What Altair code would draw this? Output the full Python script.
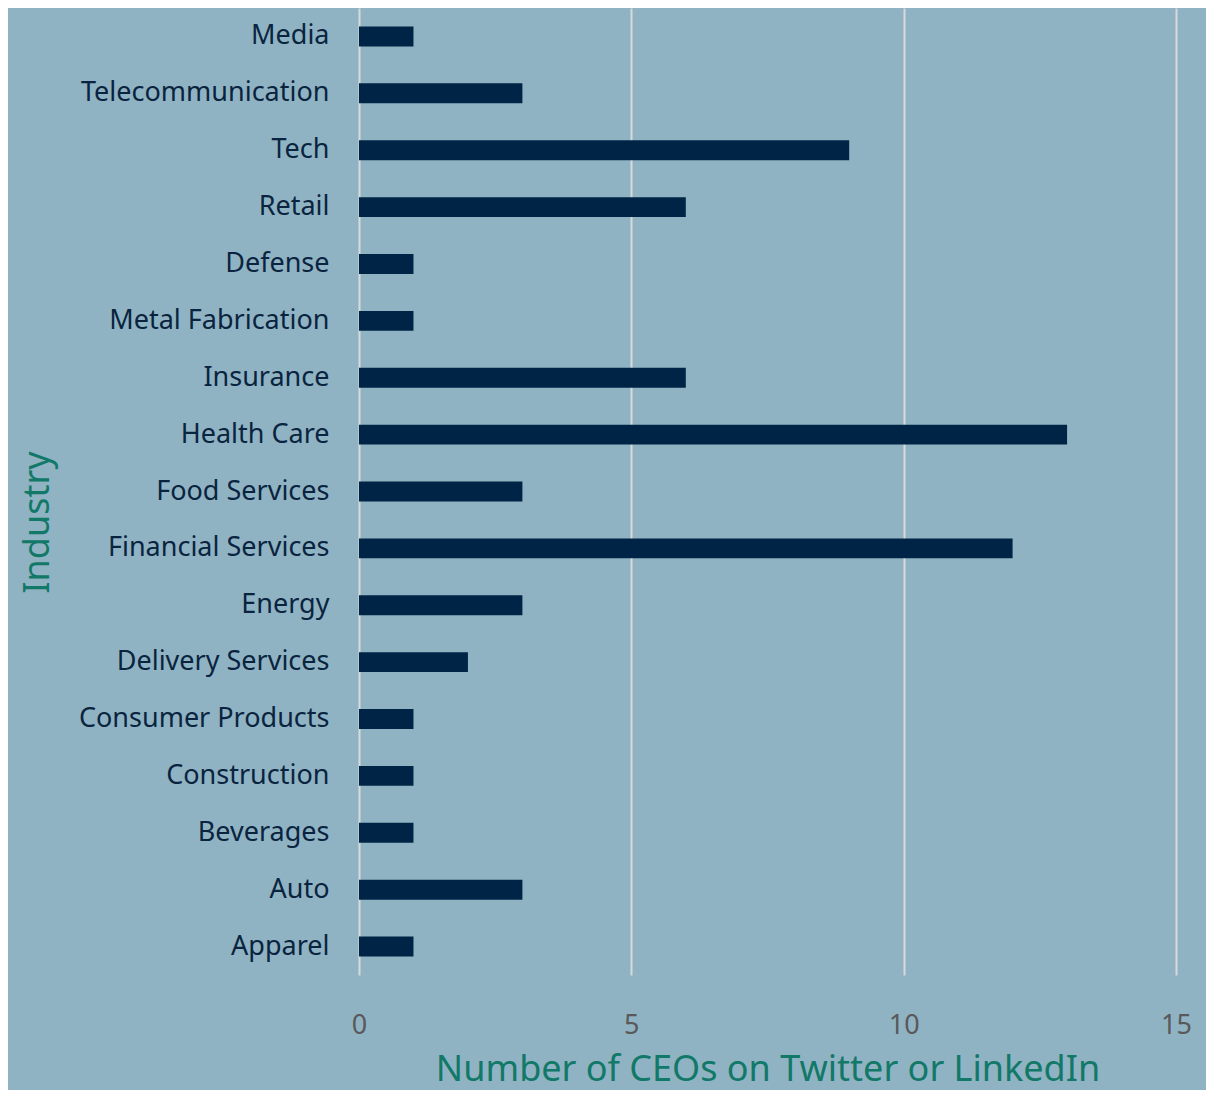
import altair as alt
import pandas as pd

industries = ["Media", "Telecommunication", "Tech", "Retail", "Defense ", "Metal Fabrication",
              "Insurance", "Health Care", "Food Services", "Financial Services", "Energy",
              "Delivery Services", "Consumer Products", "Construction", "Beverages", "Auto", "Apparel"]
counts = [1, 3, 9, 6, 1, 1, 6, 13, 3, 12, 3, 2, 1, 1, 1, 3, 1]
x_ticks = [0, 5, 10, 15]

df = pd.DataFrame({"Industry": industries, "Count": counts})

BG = "#8FB3C3"

chart = alt.Chart(df).mark_bar(color="#002445").encode(
    x=alt.X("Count:Q",
            scale=alt.Scale(domain=[0, 15], nice=False),
            axis=alt.Axis(values=x_ticks, title="Number of CEOs on Twitter or LinkedIn",
                          grid=True, gridColor="#D9D9D9", gridWidth=2, domain=False, ticks=False,
                          labelColor="#595959", labelFont="Noto Sans", labelFontSize=27,
                          labelFlush=False, labelPadding=37, titleColor="#127868",
                          titleFont="Noto Sans", titleFontSize=36, titleFontWeight="normal",
                          titlePadding=14)),
    y=alt.Y("Industry:N", sort=industries,
            scale=alt.Scale(paddingInner=0.65, paddingOuter=0.325),
            axis=alt.Axis(title="Industry", domain=False, ticks=False, grid=False,
                          labelColor="#0A2440", labelFont="Noto Sans", labelFontSize=27,
                          labelLimit=0, labelPadding=30, titleColor="#127868", titleFont="Noto Sans",
                          titleFontSize=36, titleFontWeight="normal",
                          titleAngle=-90, titleX=-322, titleY=514, titleBaseline="middle",
                          titleAlign="center")),
).properties(
    width=817, height=967,
    background=BG,
    padding={"left": 351, "top": 0, "right": 30, "bottom": 115},
    autosize=alt.AutoSizeParams(type="none"),
).configure_view(stroke=None, fill=BG)

chart.save("out.html", embed_options={"renderer": "svg", "actions": False})
